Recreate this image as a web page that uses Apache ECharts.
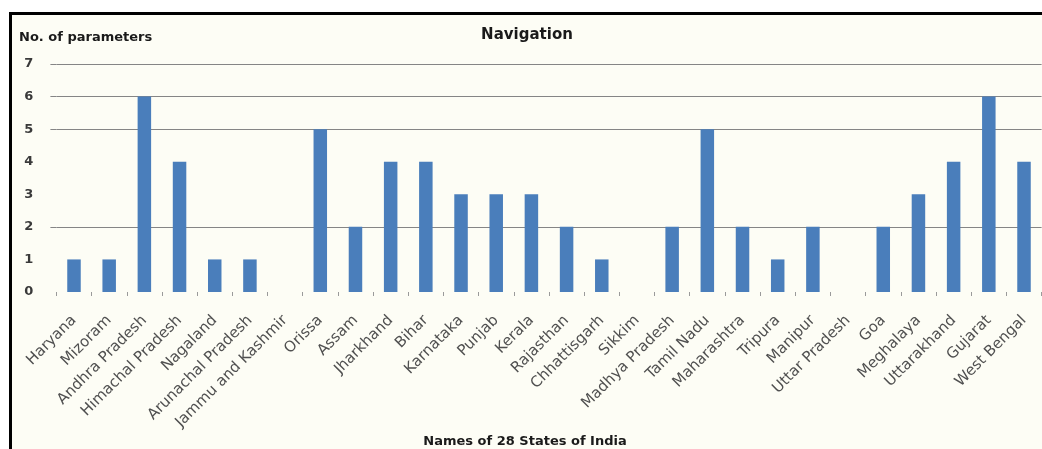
<!DOCTYPE html>
<html>
<head>
<meta charset="utf-8">
<style>
  html, body { margin: 0; padding: 0; background: #ffffff; }
  #chart { width: 1042px; height: 449px; }
</style>
<script src="https://cdn.jsdelivr.net/npm/echarts@6/dist/echarts.min.js"></script>
</head>
<body>
<div id="chart"></div>
<script>
// States along the category axis
const states = [
  'Haryana', 'Mizoram', 'Andhra Pradesh', 'Himachal Pradesh', 'Nagaland',
  'Arunachal Pradesh', 'Jammu and Kashmir', 'Orissa', 'Assam', 'Jharkhand',
  'Bihar', 'Karnataka', 'Punjab', 'Kerala', 'Rajasthan', 'Chhattisgarh',
  'Sikkim', 'Madhya Pradesh', 'Tamil Nadu', 'Maharashtra', 'Tripura',
  'Manipur', 'Uttar Pradesh', 'Goa', 'Meghalaya', 'Uttarakhand', 'Gujarat',
  'West Bengal'
];

// Number of navigation parameters per state
const navigationParams = [
  1, 1, 6, 4, 1,
  1, 0, 5, 2, 4,
  4, 3, 3, 3, 2, 1,
  0, 2, 5, 2, 1,
  2, 0, 2, 3, 4, 6,
  4
];

// Value axis range and labels
const yMin = 0;
const yMax = 7;
const yStep = 1;
const yLabelValues = [0, 1, 2, 3, 4, 5, 6, 7];
// Horizontal rules are drawn only at these values
const yRuleValues = [2, 5, 6, 7];

const ruleColor = '#858585';

const chart = echarts.init(document.getElementById('chart'), null, { renderer: 'canvas' });

chart.setOption({
  backgroundColor: '#ffffff',
  animation: false,
  graphic: [
    // panel with heavy frame on top and left
    { type: 'rect', z: -10, shape: { x: 9, y: 12, width: 1040, height: 440 },
      style: { fill: '#fdfdf5' } },
    { type: 'rect', z: -5, shape: { x: 9, y: 12, width: 1040, height: 3 },
      style: { fill: '#000000' } },
    { type: 'rect', z: -5, shape: { x: 9, y: 12, width: 3, height: 440 },
      style: { fill: '#000000' } },
    { type: 'text', x: 527, y: 35,
      style: { text: 'Navigation', textAlign: 'center', textVerticalAlign: 'middle',
               font: 'bold 15px "DejaVu Sans"', fill: '#1a1a1a' } },
    { type: 'text', x: 19, y: 38,
      style: { text: 'No. of parameters', textAlign: 'left', textVerticalAlign: 'middle',
               font: 'bold 13px "DejaVu Sans"', fill: '#1a1a1a' } },
    { type: 'text', x: 525, y: 442,
      style: { text: 'Names of 28 States of India', textAlign: 'center', textVerticalAlign: 'middle',
               font: 'bold 13px "DejaVu Sans"', fill: '#1a1a1a' } }
  ],
  grid: {
    left: 56.4,
    right: 0.4,
    top: 64,
    bottom: 157,
    outerBoundsMode: 'none',
    containLabel: false
  },
  xAxis: {
    type: 'category',
    data: states,
    boundaryGap: true,
    axisLine: { show: false },
    axisTick: { show: true, length: 4, alignWithLabel: false,
                lineStyle: { color: '#9a9a9a', width: 1 } },
    axisLabel: {
      interval: 0,
      rotate: 45,
      margin: 26,
      color: '#505050',
      fontFamily: 'DejaVu Sans',
      fontSize: 15
    },
    splitLine: { show: false }
  },
  yAxis: {
    type: 'value',
    min: yMin,
    max: yMax,
    interval: yStep,
    axisLine: { show: false },
    // short outward ticks continue the rules a few pixels past the plot edge
    axisTick: { show: true, inside: false, length: 6, customValues: yRuleValues,
                lineStyle: { color: ruleColor, width: 1 } },
    axisLabel: {
      margin: 23,
      customValues: yLabelValues,
      color: '#3a3a3a',
      fontFamily: 'DejaVu Sans',
      fontSize: 13,
      fontWeight: 'bold'
    },
    splitLine: { show: true, lineStyle: { color: ruleColor, width: 1 } }
  },
  series: [{
    type: 'bar',
    data: navigationParams,
    barWidth: 13.5,
    itemStyle: { color: '#4a7ebb' }
  }]
});
</script>
</body>
</html>
